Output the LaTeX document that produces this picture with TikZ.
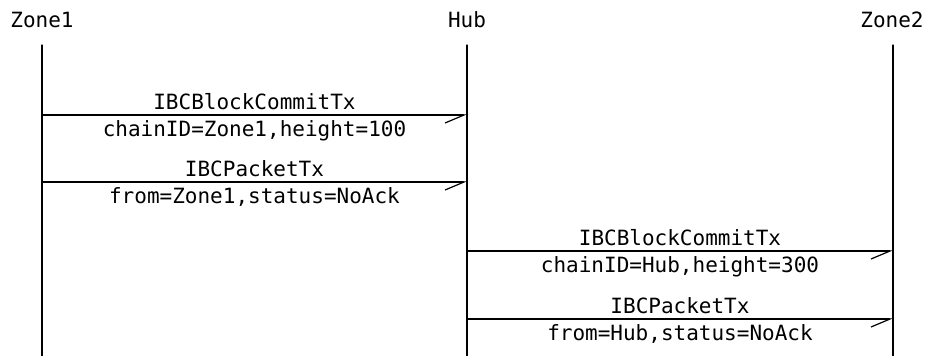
\documentclass[tikz,border=0pt]{standalone}
\usepackage{fontspec}
\setmonofont{DejaVu Sans Mono}
\usetikzlibrary{arrows.meta}
\tikzset{
	lbl/.style={font=\ttfamily\fontsize{21}{25}\selectfont,inner sep=0pt,text height=15pt,text depth=4pt},
	msg/.style={->},
}
\begin{document}
\begin{tikzpicture}[
	x=1pt,y=-1pt,
	>={Straight Barb[harpoon,swap,length=19pt,width=16pt]},
	line width=1.2pt,
	line cap=round,
	line join=round
	]
	\useasboundingbox (0,0) rectangle (930,356);
	% participants
	\node[lbl] (zone1) at (42,22) {Zone1};
	\node[lbl] (hub) at (467,22) {Hub};
	\node[lbl] (zone2) at (892,22) {Zone2};
	\coordinate (zone1 top) at (42,45);
	\coordinate (hub top) at (467,45);
	\coordinate (zone2 top) at (893,45);
	\coordinate (zone1 end) at (42,356);
	\coordinate (hub end) at (467,356);
	\coordinate (zone2 end) at (893,356);
	\draw (zone1 top) -- (zone1 end);
	\draw (hub top) -- (hub end);
	\draw (zone2 top) -- (zone2 end);
	% messages
	\coordinate (m1 from) at (42,115);
	\coordinate (m1 to) at (467,115);
	\coordinate (m2 from) at (42,182);
	\coordinate (m2 to) at (467,182);
	\coordinate (m3 from) at (467,251);
	\coordinate (m3 to) at (893,251);
	\coordinate (m4 from) at (467,319);
	\coordinate (m4 to) at (893,319);
	\begin{scope}[msg]
		\draw (m1 from) -- (m1 to) node[lbl,midway,above=1pt] {IBCBlockCommitTx} node[lbl,midway,below=6pt] {chainID=Zone1,height=100};
		\draw (m2 from) -- (m2 to) node[lbl,midway,above=1pt] {IBCPacketTx} node[lbl,midway,below=6pt] {from=Zone1,status=NoAck};
		\draw (m3 from) -- (m3 to) node[lbl,midway,above=1pt] {IBCBlockCommitTx} node[lbl,midway,below=6pt] {chainID=Hub,height=300};
		\draw (m4 from) -- (m4 to) node[lbl,midway,above=1pt] {IBCPacketTx} node[lbl,midway,below=6pt] {from=Hub,status=NoAck};
	\end{scope}
\end{tikzpicture}
\end{document}
